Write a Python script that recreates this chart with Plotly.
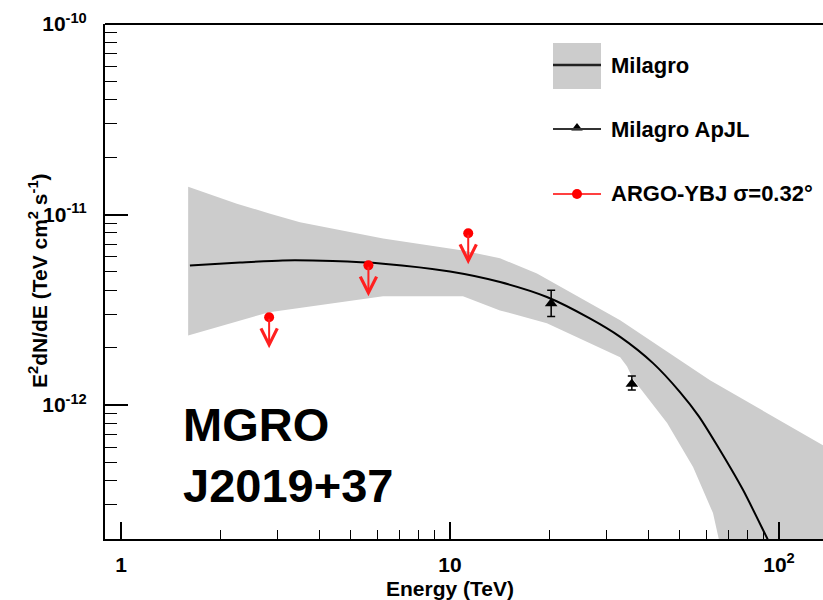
import math
import plotly.graph_objects as go

# Milagro best-fit spectrum (E^2 dN/dE, TeV cm^-2 s^-1)
fit_energy = [1.62, 2.3, 3.1, 4.4, 6.26, 10.0, 14.2, 19.7, 26.6, 32.9, 41.4, 50.0, 57.0, 64.8,
              77.7, 91.9, 100.0]
fit_flux = [5.40e-12, 5.60e-12, 5.74e-12, 5.70e-12, 5.52e-12, 5.02e-12, 4.42e-12, 3.69e-12,
            2.85e-12, 2.28e-12, 1.66e-12, 1.17e-12, 8.75e-13, 6.15e-13, 3.59e-13, 2.01e-13,
            1.50e-13]

# Milagro uncertainty band: upper and lower edges
band_hi_energy = [1.60, 2.25, 2.84, 3.50, 6.26, 10.95, 14.19, 18.38, 32.9, 50.0, 61.7, 136.0, 150.0]
band_hi_flux = [1.40e-11, 1.14e-11, 1.01e-11, 9.12e-12, 7.48e-12, 6.48e-12, 5.89e-12, 4.91e-12,
                2.79e-12, 1.72e-12, 1.35e-12, 6.15e-13, 5.50e-13]
band_lo_energy = [1.60, 2.82, 6.26, 10.95, 14.19, 19.7, 32.9, 34.5, 36.0, 45.7, 54.8, 63.0, 66.2, 70.0]
band_lo_flux = [2.32e-12, 3.07e-12, 3.72e-12, 3.72e-12, 3.14e-12, 2.69e-12, 1.78e-12, 1.60e-12,
                1.37e-12, 8.04e-13, 4.73e-13, 2.71e-13, 1.84e-13, 1.20e-13]
band_floor = 1.0e-13

# Milagro ApJL points
apjl_energy = [20.3, 35.7]
apjl_flux = [3.41e-12, 1.29e-12]
apjl_err_up = [0.59e-12, 0.13e-12]
apjl_err_down = [0.49e-12, 0.09e-12]

# ARGO-YBJ upper limits
argo_energy = [2.82, 5.65, 11.36]
argo_flux = [2.89e-12, 5.41e-12, 7.98e-12]

# axis ticks
x_major = [1, 10, 100]
x_major_text = ["1", "10", "10<sup>2</sup>"]
y_major = [1e-12, 1e-11, 1e-10]
y_major_text = ["10<sup>-12</sup>", "10<sup>-11</sup>", "10<sup>-10</sup>"]
x_minor = [m * d for d in (1, 10, 100) for m in range(2, 10)]
y_minor = [m * d for d in (1e-13, 1e-12, 1e-11) for m in range(2, 10)]

legend_labels = ["Milagro", "Milagro ApJL", "ARGO-YBJ \u03c3=0.32\u00b0"]

FONT = "Liberation Sans, Arial, Helvetica, sans-serif"
W, H = 823, 600
ML, MR, MT, MB = 105, 0, 24, 61
PW, PH = W - ML - MR, H - MT - MB
Y_RANGE = [-12.703, -10.0]
ARROW_PX = 31  # length of the upper-limit arrows, in pixels


def px(x):
    return (x - ML) / PW


def py(y):
    return (H - MB - y) / PH


fig = go.Figure()

# uncertainty band as a closed polygon
poly_x = band_hi_energy + [band_hi_energy[-1], band_lo_energy[-1]] + band_lo_energy[::-1]
poly_y = band_hi_flux + [band_floor, band_floor] + band_lo_flux[::-1]
fig.add_trace(go.Scatter(x=poly_x, y=poly_y, fill="toself", fillcolor="#cccccc",
                         line=dict(width=0), mode="lines", hoverinfo="skip", showlegend=False))

# best-fit curve
fig.add_trace(go.Scatter(x=fit_energy, y=fit_flux, mode="lines",
                         line=dict(color="black", width=2, shape="spline", smoothing=0.7),
                         showlegend=False))

# ApJL points with error bars
fig.add_trace(go.Scatter(x=apjl_energy, y=apjl_flux, mode="markers",
                         marker=dict(symbol="triangle-up", size=11, color="black"),
                         error_y=dict(type="data", array=apjl_err_up, arrayminus=apjl_err_down,
                                      color="black", thickness=1.5, width=4),
                         showlegend=False))

# ARGO-YBJ points
fig.add_trace(go.Scatter(x=argo_energy, y=argo_flux, mode="markers",
                         marker=dict(symbol="circle", size=10, color="#ff0000"),
                         showlegend=False))

annotations = []
# downward arrows for the upper limits (annotation positions on log axes are log10 values)
dec_per_px = (Y_RANGE[1] - Y_RANGE[0]) / PH
for e, f in zip(argo_energy, argo_flux):
    annotations.append(dict(x=math.log10(e), y=math.log10(f) - ARROW_PX * dec_per_px,
                            xref="x", yref="y", ax=0, ay=-ARROW_PX, text="",
                            showarrow=True, arrowside="end", arrowhead=5,
                            arrowsize=1.6, arrowwidth=2, arrowcolor="#ff2020"))

# axis titles
annotations.append(dict(x=px(450), y=py(588), xref="paper", yref="paper",
                        text="<b>Energy (TeV)</b>", showarrow=False,
                        font=dict(family=FONT, size=21, color="black"),
                        xanchor="center", yanchor="middle"))
annotations.append(dict(x=px(38), y=py(281), xref="paper", yref="paper",
                        text="<b>E<sup>2</sup>dN/dE (TeV cm<sup>2</sup> s<sup>-1</sup>)</b>",
                        showarrow=False, textangle=-90,
                        font=dict(family=FONT, size=21, color="black"),
                        xanchor="center", yanchor="middle"))

# source name
annotations.append(dict(x=px(181), y=py(455), xref="paper", yref="paper",
                        text="<b>MGRO<br>J2019+37</b>", showarrow=False, align="left",
                        font=dict(family=FONT, size=47, color="black"),
                        xanchor="left", yanchor="middle"))

# legend text
for label, ly in zip(legend_labels, [65, 129, 194]):
    annotations.append(dict(x=px(609), y=py(ly), xref="paper", yref="paper",
                            text="<b>" + label + "</b>", showarrow=False,
                            font=dict(family=FONT, size=22, color="black"),
                            xanchor="left", yanchor="middle"))

shapes = [
    # top frame line
    dict(type="line", xref="paper", yref="paper", x0=0, x1=1, y0=1, y1=1,
         line=dict(color="black", width=2)),
    # legend: band swatch with line
    dict(type="rect", xref="paper", yref="paper", x0=px(553), x1=px(601), y0=py(89), y1=py(43),
         fillcolor="#cccccc", line=dict(width=0)),
    dict(type="line", xref="paper", yref="paper", x0=px(553), x1=px(601), y0=py(65), y1=py(65),
         line=dict(color="#222222", width=2.5)),
    dict(type="line", xref="paper", yref="paper", x0=px(553), x1=px(601), y0=py(129), y1=py(129),
         line=dict(color="#333333", width=2)),
    dict(type="line", xref="paper", yref="paper", x0=px(553), x1=px(601), y0=py(194), y1=py(194),
         line=dict(color="#ff0000", width=1.5)),
]

# legend markers on an overlay axis spanning the plot area
fig.add_trace(go.Scatter(x=[px(577)], y=[py(128)], xaxis="x2", yaxis="y2", mode="markers",
                         marker=dict(symbol="triangle-up", size=10, color="black"),
                         showlegend=False, hoverinfo="skip"))
fig.add_trace(go.Scatter(x=[px(577)], y=[py(194)], xaxis="x2", yaxis="y2", mode="markers",
                         marker=dict(symbol="circle", size=10, color="#ff0000"),
                         showlegend=False, hoverinfo="skip"))

tickfont = dict(family=FONT, size=21, color="black", weight="bold")

fig.update_layout(
    width=W, height=H,
    margin=dict(l=ML, r=MR, t=MT, b=MB),
    paper_bgcolor="white", plot_bgcolor="white",
    showlegend=False,
    xaxis=dict(type="log", range=[-0.0486, 2.1337], showgrid=False, zeroline=False,
               showline=True, linecolor="black", linewidth=2,
               tickmode="array", tickvals=x_major, ticktext=x_major_text,
               ticks="inside", ticklen=17, tickwidth=1.6, tickcolor="black",
               tickfont=tickfont, ticklabelstandoff=6,
               minor=dict(tickmode="array", tickvals=x_minor, ticks="inside",
                          ticklen=9, tickwidth=1.4, tickcolor="black", showgrid=False)),
    yaxis=dict(type="log", range=Y_RANGE, showgrid=False, zeroline=False,
               showline=True, linecolor="black", linewidth=2,
               tickmode="array", tickvals=y_major, ticktext=y_major_text,
               ticks="inside", ticklen=23, tickwidth=1.6, tickcolor="black",
               tickfont=tickfont, ticklabelstandoff=12,
               minor=dict(tickmode="array", tickvals=y_minor, ticks="inside",
                          ticklen=12, tickwidth=1.4, tickcolor="black", showgrid=False)),
    xaxis2=dict(overlaying="x", range=[0, 1], visible=False, fixedrange=True),
    yaxis2=dict(overlaying="y", range=[0, 1], visible=False, fixedrange=True),
    annotations=annotations,
    shapes=shapes,
)

fig.write_html("out.html")
